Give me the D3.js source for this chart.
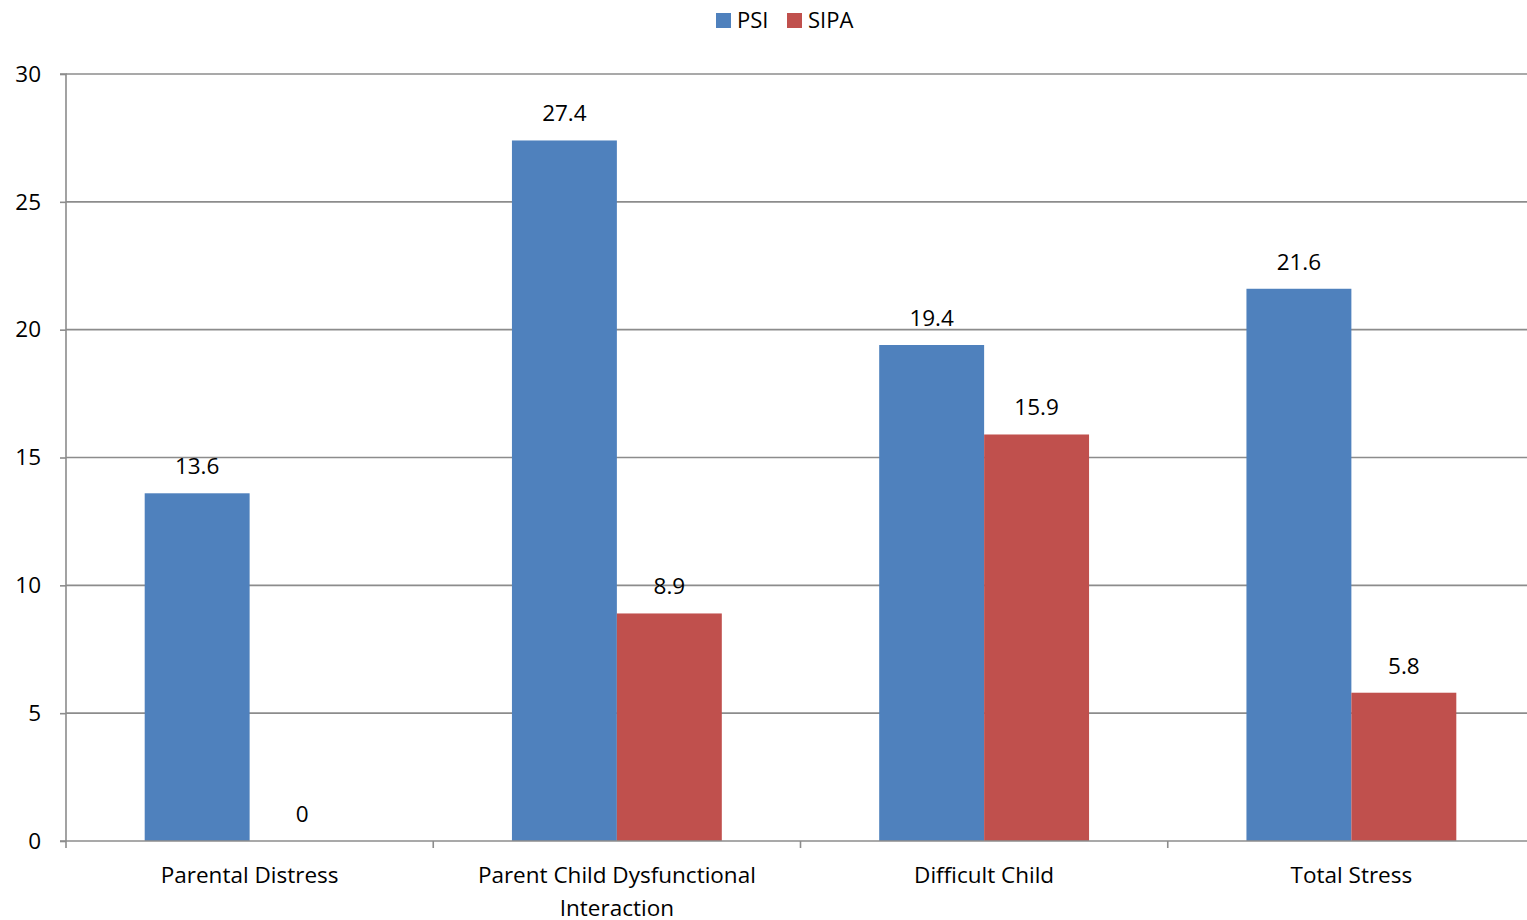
<!DOCTYPE html>
<html>
<head>
<meta charset="utf-8">
<script src="https://cdn.jsdelivr.net/npm/d3@7"></script>
<style>
  html, body { margin: 0; padding: 0; background: #fff; }
  svg { display: block; font-family: "Open Sans", sans-serif; }
</style>
</head>
<body>
<svg id="chart" width="1527" height="920"></svg>
<script>
// Chart data
const categories = ["Parental Distress", "Parent Child Dysfunctional Interaction", "Difficult Child", "Total Stress"];
const seriesNames = ["PSI", "SIPA"];
const psiValues = [13.6, 27.4, 19.4, 21.6];
const sipaValues = [0, 8.9, 15.9, 5.8];
const yTicks = [0, 5, 10, 15, 20, 25, 30];
const colors = ["#4F81BD", "#C0504D"];

const svg = d3.select("#chart");
const margin = { left: 66, right: -8, top: 74, bottom: 79 };
const width = 1527 - margin.left - margin.right;
const height = 920 - margin.top - margin.bottom;

const g = svg.append("g").attr("transform", `translate(${margin.left},${margin.top})`);

const x0 = d3.scaleBand().domain(categories).range([0, width]).paddingInner(0).paddingOuter(0);
const x1 = d3.scaleBand().domain(seriesNames).range([0, x0.bandwidth()]).paddingInner(0).paddingOuter(0.75);
const y = d3.scaleLinear().domain([0, 30]).range([height, 0]);

// gridlines
g.selectAll(".grid").data(yTicks.filter(d => d > 0)).join("line")
  .attr("x1", 0).attr("x2", width)
  .attr("y1", d => y(d)).attr("y2", d => y(d))
  .attr("stroke", "#8c8c8c").attr("stroke-width", 1.6);

// y axis
const yAxis = g.append("g").call(d3.axisLeft(y).tickValues(yTicks).tickSize(6).tickPadding(19));
yAxis.select(".domain").attr("stroke", "#8c8c8c").attr("stroke-width", 1.6).attr("d", `M-6,0H0V${height}`);
yAxis.selectAll(".tick line").attr("stroke", "#8c8c8c").attr("stroke-width", 1.6);
yAxis.selectAll(".tick text").attr("font-size", 22.5).attr("fill", "#000").attr("font-family", "Open Sans, sans-serif");

// bars
const data = categories.map((c, i) => ({ cat: c, vals: [psiValues[i], sipaValues[i]] }));
const groups = g.selectAll(".cat").data(data).join("g").attr("transform", d => `translate(${x0(d.cat)},0)`);
groups.selectAll("rect").data(d => d.vals.map((v, k) => ({ v, k }))).join("rect")
  .attr("x", d => x1(seriesNames[d.k]))
  .attr("width", x1.bandwidth())
  .attr("y", d => y(d.v))
  .attr("height", d => height - y(d.v))
  .attr("fill", d => colors[d.k]);

// value labels
groups.selectAll(".lbl").data(d => d.vals.map((v, k) => ({ v, k }))).join("text")
  .attr("x", d => x1(seriesNames[d.k]) + x1.bandwidth() / 2)
  .attr("y", d => y(d.v) - 19)
  .attr("text-anchor", "middle")
  .attr("font-size", 22.5)
  .attr("fill", "#000")
  .text(d => d.v);

// x axis
const xAxisG = g.append("g").attr("transform", `translate(0,${height})`);
xAxisG.append("line").attr("x1", -6).attr("x2", width).attr("y1", 0).attr("y2", 0)
  .attr("stroke", "#8c8c8c").attr("stroke-width", 1.6);
const boundaries = categories.map(c => x0(c)).concat([width]);
xAxisG.selectAll(".xt").data(boundaries).join("line")
  .attr("x1", d => d).attr("x2", d => d).attr("y1", 0).attr("y2", 7)
  .attr("stroke", "#8c8c8c").attr("stroke-width", 1.6);

// category labels, wrapped
const maxLabelWidth = 330;
xAxisG.selectAll(".xl").data(categories).join("text")
  .attr("text-anchor", "middle")
  .attr("font-size", 22.5)
  .attr("fill", "#000")
  .each(function (c) {
    const t = d3.select(this);
    const words = c.split(" ");
    const lines = [];
    let line = [];
    words.forEach(w => {
      line.push(w);
      t.text(line.join(" "));
      if (this.getComputedTextLength() > maxLabelWidth && line.length > 1) {
        line.pop();
        lines.push(line.join(" "));
        line = [w];
      }
    });
    lines.push(line.join(" "));
    t.text(null);
    lines.forEach((l, i) => {
      t.append("tspan").attr("x", x0(c) + x0.bandwidth() / 2).attr("y", 42 + i * 33).text(l);
    });
  });

// legend
const legend = svg.append("g").attr("transform", "translate(716,13)");
const legendItems = [{ name: "PSI", x: 0 }, { name: "SIPA", x: 71 }];
legendItems.forEach((it, i) => {
  legend.append("rect").attr("x", it.x).attr("y", 0).attr("width", 15).attr("height", 15).attr("fill", colors[i]);
  legend.append("text").attr("x", it.x + 21).attr("y", 15).attr("font-size", 22).attr("fill", "#000").text(it.name);
});
</script>
</body>
</html>
